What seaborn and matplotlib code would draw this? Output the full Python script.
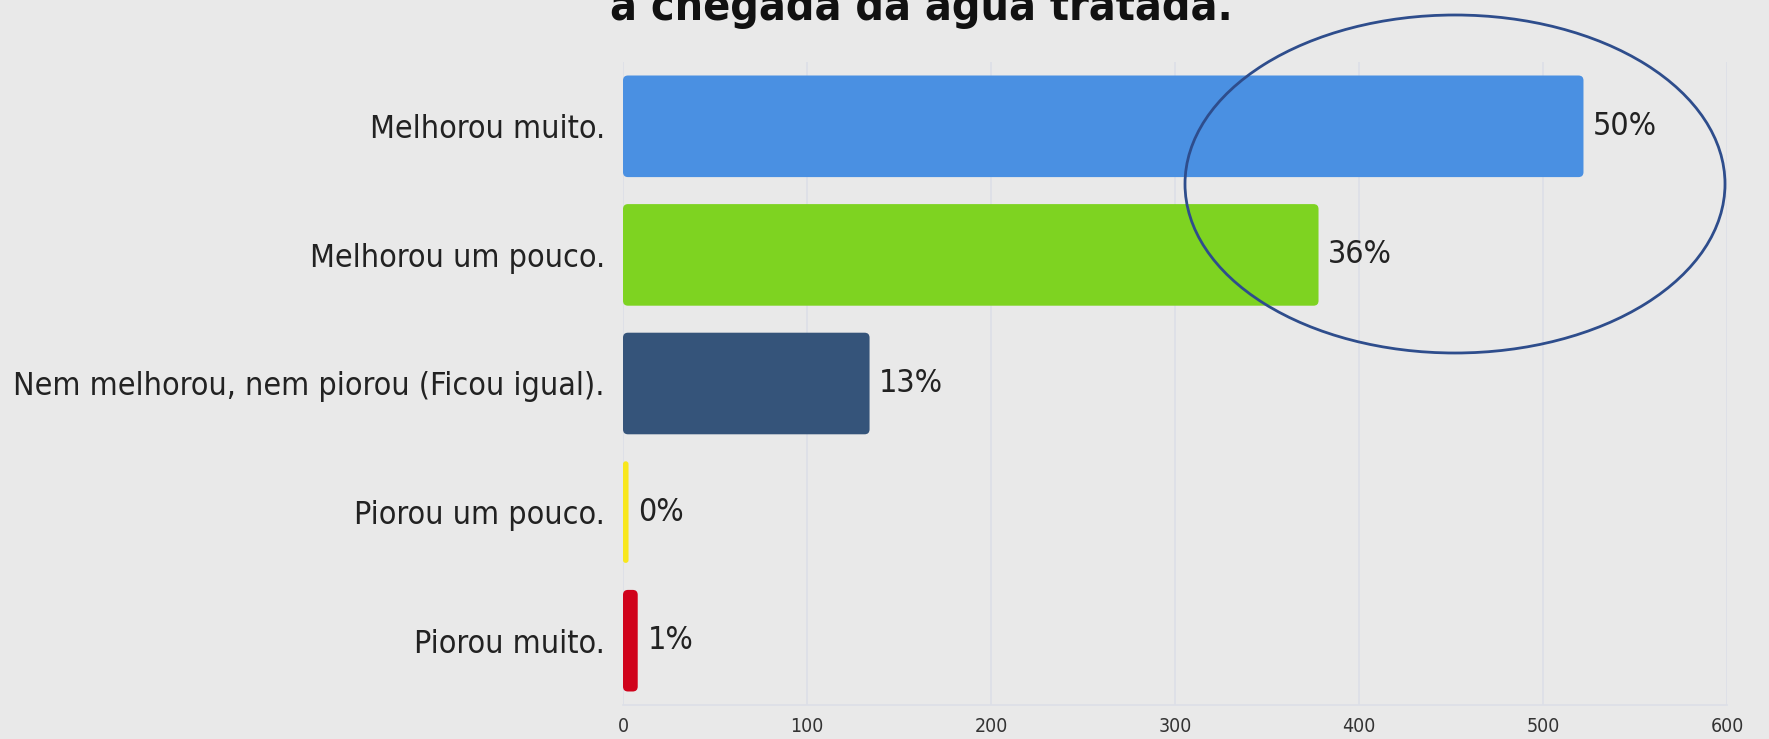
import matplotlib
matplotlib.use("Agg")
import matplotlib.pyplot as plt
import seaborn as sns
import pandas as pd
from matplotlib.patches import Ellipse, FancyBboxPatch

categories = ["Melhorou muito.", "Melhorou um pouco.", "Nem melhorou, nem piorou (Ficou igual).",
              "Piorou um pouco.", "Piorou muito."]
values = [522, 378, 134, 3, 8]
pct_labels = ["50%", "36%", "13%", "0%", "1%"]
colors = ["#4a90e2", "#7ed321", "#35547a", "#f8e71c", "#d0021b"]
xticks = [0, 100, 200, 300, 400, 500, 600]
title_line = "a chegada da água tratada."

sns.set_theme(style="white")
plt.rcParams['font.family'] = ['DejaVu Sans']
plt.rcParams['font.stretch'] = 'condensed'

bg = "#e9e9e9"
grid_c = "#dcdfe7"
fig = plt.figure(figsize=(17.69, 7.39), dpi=100, facecolor=bg)
ax_l, ax_r, ax_t, ax_b = 623, 1727, 62, 705
ax = fig.add_axes([ax_l/1769, 1 - ax_b/739, (ax_r-ax_l)/1769, (ax_b-ax_t)/739])
ax.set_facecolor(bg)

df = pd.DataFrame({"cat": categories, "val": values})
sns.barplot(data=df, x="val", y="cat", hue="cat", palette=colors, legend=False,
            orient="h", width=0.79, saturation=1, ax=ax, zorder=3, linewidth=0)

ax.set_xlim(0, 600)
ax.set_ylim(4.5, -0.5)

# rounded corners for the bars
px_per_x = (ax_r - ax_l) / 600.0
px_per_y = (ax_b - ax_t) / 5.0
aspect = px_per_x / px_per_y
for p in list(ax.patches):
    x0, y0 = p.get_x(), p.get_y()
    w, h = p.get_width(), p.get_height()
    r = min(5.0 / px_per_x, w / 2.0)
    fb = FancyBboxPatch((x0, y0), w, h, boxstyle=f"round,pad=0,rounding_size={r}",
                        mutation_aspect=aspect, facecolor=p.get_facecolor(),
                        edgecolor="none", zorder=3)
    p.set_visible(False)
    ax.add_patch(fb)

ax.set_xticks(xticks)
ax.set_xticklabels([str(t) for t in xticks], fontsize=14, color="#333333")
ax.set_yticks(range(len(categories)))
ax.set_yticklabels(categories, fontsize=23, color="#222222")
ax.grid(axis="x", color=grid_c, lw=1.2, zorder=0)
ax.set_axisbelow(True)
ax.set_xlabel("")
ax.set_ylabel("")
for s in ["top", "right", "left"]:
    ax.spines[s].set_visible(False)
ax.spines["bottom"].set_color(grid_c)
ax.spines["bottom"].set_linewidth(1.2)
ax.tick_params(axis="x", length=0, pad=9)
ax.tick_params(axis="y", length=6, color=grid_c, width=1, pad=7)

for i, (v, lab) in enumerate(zip(values, pct_labels)):
    ax.annotate(lab, xy=(v, i), xytext=(7, 0), textcoords="offset points",
                va="center", ha="left", fontsize=23, color="#222222")

fig.text(921/1769, 1 - 20/739, title_line, ha="center", va="baseline",
         fontsize=32, fontweight="bold", color="#111111", family="DejaVu Sans",
         fontstretch="condensed")

ell = Ellipse((1455/1769, 1 - 184/739), 540/1769, 338/739, transform=fig.transFigure,
              fill=False, edgecolor="#2e4d8c", lw=2)
fig.patches.append(ell)

fig.savefig("out.png", dpi=100, facecolor=bg)
